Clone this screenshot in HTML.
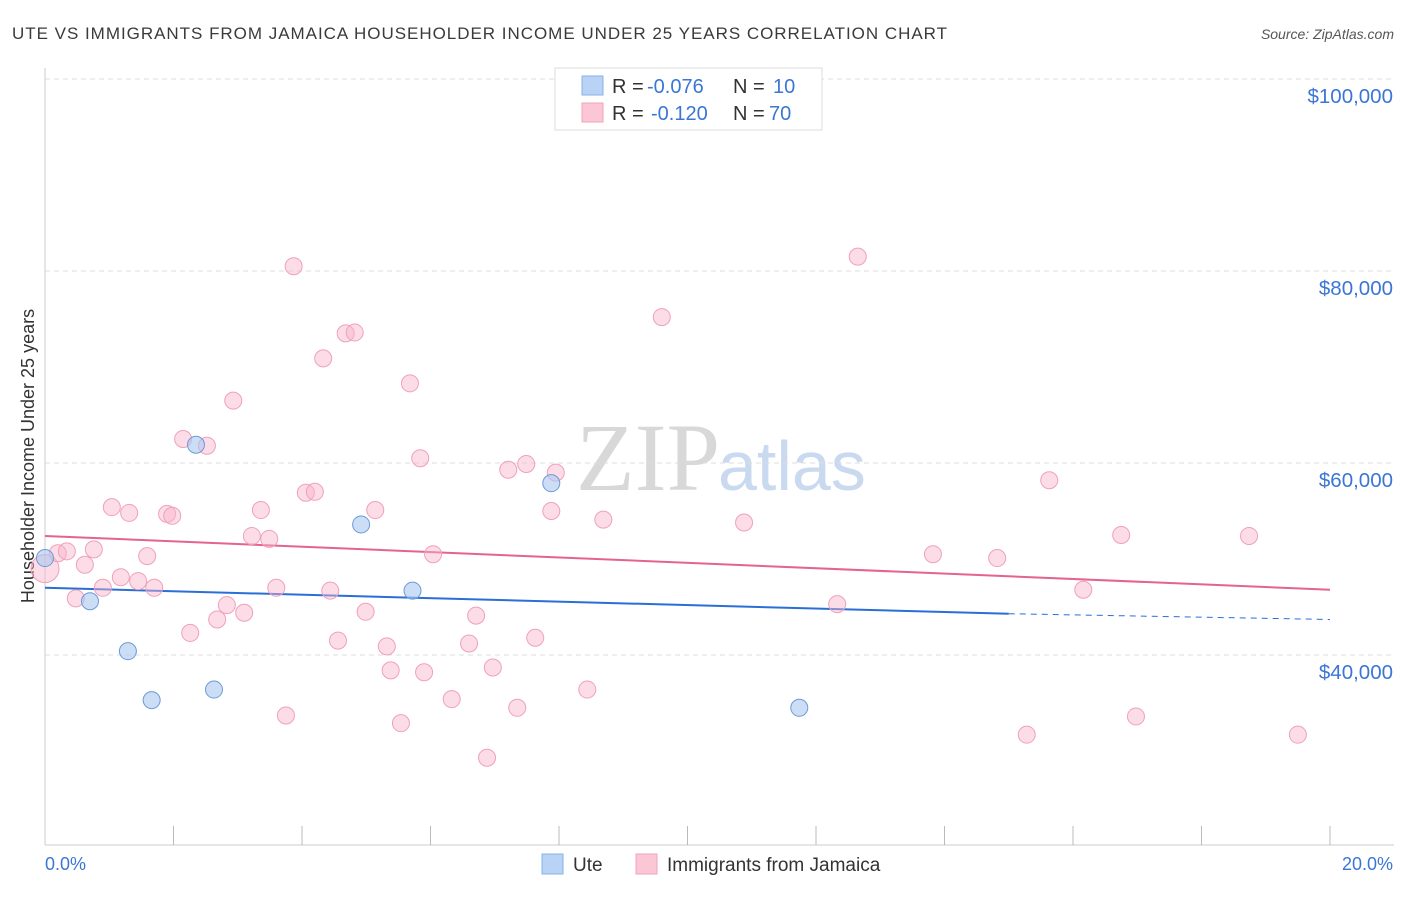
<!DOCTYPE html>
<html><head><meta charset="utf-8"><style>
body{margin:0;background:#fff;font-family:"Liberation Sans",sans-serif}
</style></head><body>
<svg id="c" width="1406" height="892" xmlns="http://www.w3.org/2000/svg">
<text x="12" y="39" font-size="17" fill="#3a3a3a" textLength="935">UTE VS IMMIGRANTS FROM JAMAICA HOUSEHOLDER INCOME UNDER 25 YEARS CORRELATION CHART</text>
<text x="1394" y="39" font-size="14" fill="#555" text-anchor="end" font-style="italic">Source: ZipAtlas.com</text>
<text x="720" y="490" font-size="96" fill="#d8d8d8" text-anchor="end" font-family="Liberation Serif">ZIP</text>
<text x="718" y="490" font-size="70" fill="#c9d9ef">atlas</text>
<text transform="translate(34,456) rotate(-90)" font-size="18" fill="#333" text-anchor="middle">Householder Income Under 25 years</text>
<g id="grid"></g><g id="trend"></g><g id="pts"></g>
<g>
<rect x="555" y="68" width="267" height="62" fill="#fff" stroke="#ddd"/>
<rect x="582" y="76" width="21" height="19" fill="#b8d3f5" stroke="#8ab2e6"/>
<rect x="582" y="103" width="21" height="19" fill="#fbc6d6" stroke="#f0a3bb"/>
<text x="612" y="93" font-size="20" fill="#333">R =</text>
<text x="647" y="93" font-size="20" fill="#3b76d6">-0.076</text>
<text x="733" y="93" font-size="20" fill="#333">N =</text>
<text x="773" y="93" font-size="20" fill="#3b76d6">10</text>
<text x="612" y="120" font-size="20" fill="#333">R =</text>
<text x="651" y="120" font-size="20" fill="#3b76d6">-0.120</text>
<text x="733" y="120" font-size="20" fill="#333">N =</text>
<text x="769" y="120" font-size="20" fill="#3b76d6">70</text>
</g>
<g>
<rect x="542" y="854" width="21" height="20" fill="#b8d3f5" stroke="#8ab2e6"/>
<text x="573" y="871" font-size="19" fill="#333">Ute</text>
<rect x="636" y="854" width="21" height="20" fill="#fbc6d6" stroke="#f0a3bb"/>
<text x="667" y="871" font-size="19" fill="#333">Immigrants from Jamaica</text>
</g>
<text x="45" y="870" font-size="18" fill="#3b76d6">0.0%</text>
<text x="1393" y="870" font-size="18" fill="#3b76d6" text-anchor="end">20.0%</text>
</svg>
<script>
const yTicks=[100000,80000,60000,40000];
const yTickLabels=["$100,000","$80,000","$60,000","$40,000"];
const uteX=[0.0,0.7,1.29,1.66,2.35,2.63,4.92,5.72,7.88,11.74];
const uteY=[50100,45600,40400,35300,61900,36400,53600,46700,57900,34500];
const jamX=[0.0,0.2,0.34,0.62,0.76,0.9,0.48,1.04,1.31,1.18,1.45,1.59,1.7,1.9,1.98,2.15,2.26,2.52,2.68,2.83,2.93,3.1,3.22,3.36,3.49,3.6,3.75,3.87,4.06,4.2,4.33,4.44,4.56,4.68,4.82,4.99,5.14,5.32,5.38,5.54,5.68,5.84,5.9,6.04,6.33,6.6,6.71,6.88,6.97,7.21,7.35,7.49,7.63,7.88,7.95,8.44,8.69,9.6,10.88,12.33,12.65,13.82,14.82,15.28,15.63,16.16,16.75,16.98,18.74,19.5];
const jamY=[49000,50600,50800,49400,51000,47000,45900,55400,54800,48100,47700,50300,47000,54700,54500,62500,42300,61800,43700,45200,66500,44400,52400,55100,52100,47000,33700,80500,56900,57000,70900,46700,41500,73500,73600,44500,55100,40900,38400,32900,68300,60500,38200,50500,35400,41200,44100,29300,38700,59300,34500,59900,41800,55000,59000,36400,54100,75200,53800,45300,81500,50500,50100,31700,58200,46800,52500,33600,52400,31700];
const trendUte=[47000,44300,43700];
const trendJam=[52400,46800];
const X=v=>45+v/20*1285, Y=v=>79+(100000-v)/20000*192;
const NS="http://www.w3.org/2000/svg";
function mk(p,t,a){const e=document.createElementNS(NS,t);for(const k in a)e.setAttribute(k,a[k]);document.getElementById(p).appendChild(e);return e;}
yTicks.forEach((t,i)=>{
 const l=mk('grid','line',{x1:45,x2:1394,y1:Y(t),y2:Y(t),stroke:'#ddd','stroke-dasharray':'5,4'});
 
 
 const tx=mk('grid','text',{x:1393,y:Y(t)+24,'font-size':20.5,fill:'#3b76d6','text-anchor':'end'});
 tx.textContent=yTickLabels[i];
 
 
});
mk('grid','line',{x1:45,x2:45,y1:68,y2:845,stroke:'#ccc'});
mk('grid','line',{x1:45,x2:1394,y1:845,y2:845,stroke:'#ccc'});
for(let i=1;i<=10;i++){const l=mk('grid','line',{x1:X(i*2),x2:X(i*2),y1:826,y2:845,stroke:'#bbb'});
 
 }
let t=mk('trend','line',{x1:X(0),y1:Y(trendUte[0]),x2:X(15),y2:Y(trendUte[1]),stroke:'#2a6fd6','stroke-width':2});


t=mk('trend','line',{x1:X(15),y1:Y(trendUte[1]),x2:X(20),y2:Y(trendUte[2]),stroke:'#2a6fd6','stroke-width':1,'stroke-dasharray':'6,5'});


t=mk('trend','line',{x1:X(0),y1:Y(trendJam[0]),x2:X(20),y2:Y(trendJam[1]),stroke:'#e4638f','stroke-width':2});


jamX.forEach((x,i)=>{const c=mk('pts','circle',{cx:X(x),cy:Y(jamY[i]),r:i==0?14:8.5,fill:'rgba(248,180,202,0.45)',stroke:'#f0a0ba','stroke-width':1});
 
 });
uteX.forEach((x,i)=>{const c=mk('pts','circle',{cx:X(x),cy:Y(uteY[i]),r:8.5,fill:'rgba(170,200,240,0.6)',stroke:'#6d9ad8','stroke-width':1});
 
 });
</script>
</body></html>
